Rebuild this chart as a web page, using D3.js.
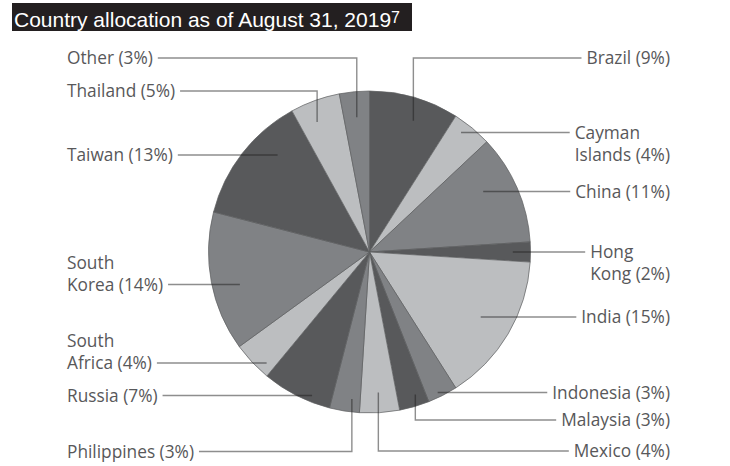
<!DOCTYPE html>
<html>
<head>
<meta charset="utf-8">
<script src="https://cdn.jsdelivr.net/npm/d3@7/dist/d3.min.js"></script>
<style>
  html, body { margin: 0; padding: 0; background: #fff; }
  svg { display: block; }
</style>
</head>
<body>
<svg id="chart" width="730" height="466"></svg>
<script>
// Country allocation data (percent of fund)
const countries = ["Brazil", "Cayman Islands", "China", "Hong Kong", "India", "Indonesia",
  "Malaysia", "Mexico", "Philippines", "Russia", "South Africa", "South Korea",
  "Taiwan", "Thailand", "Other"];
const shares = [9, 4, 11, 2, 15, 3, 3, 4, 3, 7, 4, 14, 13, 5, 3];

// Grey shades, cycled around the pie
const shades = ["#58595b", "#bcbec0", "#808285"];

const titleText = "Country allocation as of August 31, 2019";
const titleNote = "7";

// Callout placement: side, y of the leader, leader style,
// anchor radius (fraction of R) and position inside the slice (t)
const callouts = {
  "Brazil":         { side: "right", y: 58,  kind: "elbow", r: 0.86, t: 0.57 },
  "Cayman Islands": { side: "right", y: 132.5, kind: "flat", r: 0.935, lines: ["Cayman", "Islands"] },
  "China":          { side: "right", y: 191.5, kind: "flat", r: 0.80 },
  "Hong Kong":      { side: "right", y: 252, kind: "flat", r: 0.89, lines: ["Hong", "Kong"] },
  "India":          { side: "right", y: 317, kind: "flat", r: 0.80 },
  "Indonesia":      { side: "right", y: 392.5, kind: "flat", r: 0.97 },
  "Malaysia":       { side: "right", y: 420, kind: "elbow", r: 0.93, t: 0.35 },
  "Mexico":         { side: "right", y: 451, kind: "elbow", r: 0.875, t: 0.5 },
  "Philippines":    { side: "left",  y: 451.5, kind: "elbow", r: 0.92, t: 0.3 },
  "Russia":         { side: "left",  y: 395.5, kind: "flat", r: 0.96 },
  "South Africa":   { side: "left",  y: 363, kind: "flat", r: 0.94, lines: ["South", "Africa"] },
  "South Korea":    { side: "left",  y: 284.5, kind: "flat", r: 0.83, lines: ["South", "Korea"] },
  "Taiwan":         { side: "left",  y: 155, kind: "flat", r: 0.83 },
  "Thailand":       { side: "left",  y: 91,  kind: "elbow", r: 0.87, t: 0.38 },
  "Other":          { side: "left",  y: 58,  kind: "elbow", r: 0.84, t: 0.5 }
};

const W = 730, H = 466;
const cx = 369.5, cy = 252, R = 161;
const leftX = 67, rightEdge = 670, gap = 5;
const fontSize = 17.3, lineGap = 22;

const svg = d3.select("#chart");

// Title bar
svg.append("rect")
  .attr("x", 12).attr("y", 3).attr("width", 400).attr("height", 28)
  .attr("fill", "#231f20");
const title = svg.append("text")
  .attr("x", 14).attr("y", 26.5)
  .attr("font-family", "'Liberation Sans', Arial, sans-serif")
  .attr("font-size", 21)
  .attr("fill", "#ffffff");
title.append("tspan").text(titleText);
title.append("tspan").attr("font-size", 16).attr("dy", -3.5).text(titleNote);

// Pie
const data = countries.map((c, i) => ({ name: c, value: shares[i], i }));
const pie = d3.pie().sort(null).value(d => d.value).startAngle(0).endAngle(2 * Math.PI);
const arcs = pie(data);
const arc = d3.arc().innerRadius(0).outerRadius(R);
const color = d3.scaleOrdinal().domain(d3.range(countries.length)).range(
  d3.range(countries.length).map(i => shades[i % shades.length]));

const g = svg.append("g").attr("transform", `translate(${cx},${cy})`);
g.selectAll("path.slice")
  .data(arcs)
  .join("path")
  .attr("class", "slice")
  .attr("d", arc)
  .attr("fill", d => color(d.data.i))
  .attr("stroke", "#5d5e60")
  .attr("stroke-width", 0.7);

// Labels and leaders
const labelG = svg.append("g")
  .attr("font-family", "'Open Sans', 'Noto Sans', sans-serif")
  .attr("font-size", fontSize)
  .attr("fill", "#58585a");
const leaderG = svg.append("g")
  .attr("fill", "none")
  .attr("stroke", "#1e1e1e")
  .attr("stroke-opacity", 0.5)
  .attr("stroke-width", 1.4);

arcs.forEach(a => {
  const c = callouts[a.data.name];
  const pct = ` (${a.data.value}%)`;
  const lines = c.lines ? c.lines.slice() : [a.data.name];
  lines[lines.length - 1] += pct;

  // which line the leader meets: first on the right, last on the left
  const attach = c.side === "right" ? 0 : lines.length - 1;
  const firstY = c.y - attach * lineGap;
  const baseShift = fontSize * 0.36;

  const t = labelG.append("text");
  lines.forEach((ln, k) => {
    t.append("tspan").attr("y", firstY + k * lineGap + baseShift).text(ln);
  });
  const tspans = t.selectAll("tspan").nodes();
  const widths = tspans.map(n => n.getComputedTextLength());
  const maxW = d3.max(widths);
  const x0 = c.side === "right" ? rightEdge - maxW : leftX;
  t.selectAll("tspan").attr("x", x0);

  // end of the leader next to the text
  const endX = c.side === "right" ? x0 - gap : leftX + widths[attach] + gap;

  let pts;
  if (c.kind === "elbow") {
    const ang = a.startAngle + (a.endAngle - a.startAngle) * (c.t ?? 0.5);
    const ax = cx + c.r * R * Math.sin(ang);
    const ay = cy - c.r * R * Math.cos(ang);
    pts = [[ax, ay], [ax, c.y], [endX, c.y]];
  } else {
    const dy = c.y - cy;
    const rr = c.r * R;
    const dx = Math.sqrt(Math.max(0, rr * rr - dy * dy));
    const ax = c.side === "right" ? cx + dx : cx - dx;
    pts = [[ax, c.y], [endX, c.y]];
  }
  leaderG.append("path").attr("d", d3.line()(pts));
});
</script>
</body>
</html>
